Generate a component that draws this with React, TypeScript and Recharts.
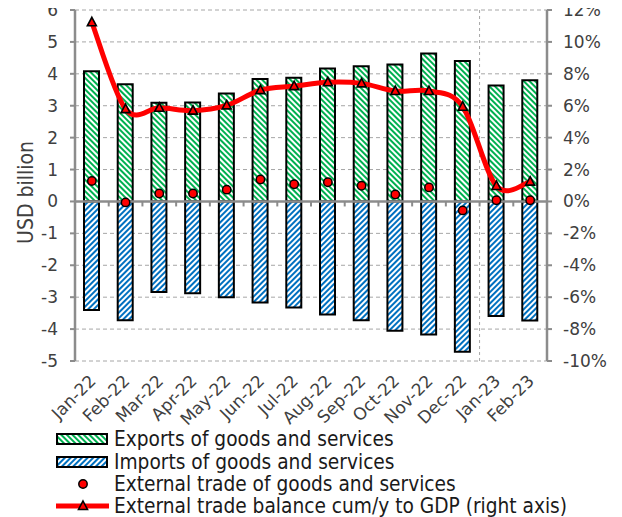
import React from 'react';
import {
  ComposedChart,
  Bar,
  Line,
  XAxis,
  YAxis,
  CartesianGrid,
  ReferenceLine,
  Legend,
} from 'recharts';

const months = ['Jan-22', 'Feb-22', 'Mar-22', 'Apr-22', 'May-22', 'Jun-22', 'Jul-22', 'Aug-22', 'Sep-22', 'Oct-22', 'Nov-22', 'Dec-22', 'Jan-23', 'Feb-23'];
const exportsValues = [4.08, 3.67, 3.09, 3.1, 3.38, 3.84, 3.88, 4.17, 4.24, 4.29, 4.64, 4.4, 3.63, 3.8];
const importsValues = [-3.4, -3.72, -2.84, -2.88, -3.0, -3.17, -3.32, -3.54, -3.72, -4.05, -4.17, -4.71, -3.59, -3.73];
const balanceValues = [0.64, -0.03, 0.25, 0.25, 0.37, 0.69, 0.54, 0.6, 0.49, 0.22, 0.44, -0.28, 0.04, 0.04];
const gdpRatioValues = [11.23, 5.79, 5.87, 5.69, 6.02, 6.98, 7.23, 7.47, 7.4, 6.92, 6.92, 5.94, 0.97, 1.24];
const leftTicks = [-5, -4, -3, -2, -1, 0, 1, 2, 3, 4, 5, 6];
const rightTicks = [-10, -8, -6, -4, -2, 0, 2, 4, 6, 8, 10, 12];
const seriesNames = [
  'Exports of goods and services',
  'Imports of goods and services',
  'External trade of goods and services',
  'External trade balance cum/y to GDP (right axis)',
];
const splitMonth = 'Dec-22';

const data = months.map((m, i) => ({
  month: m,
  exp: exportsValues[i],
  imp: importsValues[i],
  bal: balanceValues[i],
  ratio: gdpRatioValues[i],
}));

const GREEN = '#00B050';
const BLUE = '#0070C0';
const RED = '#FF0000';
const AXIS = '#8C8C8C';
const GRID = '#A6A6A6';
const TEXT = '#404040';
const FONT = '"DejaVu Sans", Verdana, sans-serif';
const FONT_COND = '"DejaVu Sans Condensed", "DejaVu Sans", sans-serif';

// Excel-like smoothing (Catmull-Rom with 1/6 tangents)
function smoothCurve(context: any) {
  let pts: number[][] = [];
  return {
    areaStart() {},
    areaEnd() {},
    lineStart() {
      pts = [];
    },
    lineEnd() {
      const n = pts.length;
      if (!n) return;
      context.moveTo(pts[0][0], pts[0][1]);
      for (let i = 0; i < n - 1; i++) {
        const p0 = pts[Math.max(0, i - 1)];
        const p1 = pts[i];
        const p2 = pts[i + 1];
        const p3 = pts[Math.min(n - 1, i + 2)];
        const k = 1 / 6;
        context.bezierCurveTo(
          p1[0] + (p2[0] - p0[0]) * k,
          p1[1] + (p2[1] - p0[1]) * k,
          p2[0] - (p3[0] - p1[0]) * k,
          p2[1] - (p3[1] - p1[1]) * k,
          p2[0],
          p2[1]
        );
      }
    },
    point(x: number, y: number) {
      pts.push([x, y]);
    },
  };
}

const triangle = (cx: number, cy: number) =>
  `M${cx},${cy - 5} L${cx + 4.5},${cy + 3.5} L${cx - 4.5},${cy + 3.5} Z`;

const TriangleDot = (props: any) => {
  const { cx, cy, index } = props;
  if (cx == null || cy == null) return null;
  return <path key={`t-${index}`} d={triangle(cx, cy)} fill={RED} stroke="#000" strokeWidth={1.6} />;
};

const CircleDot = (props: any) => {
  const { cx, cy, index } = props;
  if (cx == null || cy == null) return null;
  return <circle key={`c-${index}`} cx={cx} cy={cy} r={4.2} fill={RED} stroke="#000" strokeWidth={1.5} />;
};

const XTick = (props: any) => {
  const { x, y, payload } = props;
  const tx = x + 5;
  const ty = y + 19;
  return (
    <text
      x={tx}
      y={ty}
      textAnchor="end"
      transform={`rotate(-45, ${tx}, ${ty})`}
      fill={TEXT}
      fontSize={17}
      fontFamily={FONT}
    >
      {payload.value}
    </text>
  );
};

const ZeroLine = (props: any) => {
  const { x1, y1, x2, y2 } = props;
  const n = months.length;
  const step = (x2 - x1) / n;
  const ticks = [];
  for (let i = 1; i < n; i++) {
    const x = x1 + i * step;
    ticks.push(<line key={i} x1={x} x2={x} y1={y1} y2={y1 + 5} stroke={AXIS} strokeWidth={2} />);
  }
  return (
    <g>
      <line x1={x1} y1={y1} x2={x2} y2={y2} stroke={AXIS} strokeWidth={2.5} />
      {ticks}
    </g>
  );
};

const YLabel = (props: any) => {
  const { viewBox } = props;
  const x = viewBox.x + 33;
  const y = viewBox.y + viewBox.height / 2 + 7;
  return (
    <text x={x} y={y} textAnchor="middle" transform={`rotate(-90, ${x}, ${y})`} fill={TEXT} fontSize={21} fontFamily={FONT_COND}>
      USD billion
    </text>
  );
};

const LegendIcon = ({ i }: { i: number }) => {
  const common = { width: 53, height: 16, style: { marginRight: 5, flex: 'none' } as React.CSSProperties };
  if (i === 0 || i === 1) {
    return (
      <svg {...common}>
        <rect x={1} y={3} width={50} height={10} fill={i === 0 ? 'url(#hatchGreen)' : 'url(#hatchBlue)'} stroke="#000" strokeWidth={2} />
      </svg>
    );
  }
  if (i === 2) {
    return (
      <svg {...common}>
        <circle cx={27} cy={8} r={4.2} fill={RED} stroke="#000" strokeWidth={1.5} />
      </svg>
    );
  }
  return (
    <svg {...common}>
      <line x1={0} x2={55} y1={8} y2={8} stroke={RED} strokeWidth={5} />
      <path d={triangle(27, 8)} fill={RED} stroke="#000" strokeWidth={1.6} />
    </svg>
  );
};

const LegendContent = () => (
  <div
    style={{
      fontFamily: FONT_COND,
      fontSize: 20.7,
      color: '#1A1A1A',
      paddingLeft: 56,
      paddingTop: 1,
      height: 90,
      boxSizing: 'border-box',
    }}
  >
    {seriesNames.map((name, i) => (
      <div key={name} style={{ display: 'flex', alignItems: 'center', height: 22.4, whiteSpace: 'nowrap' }}>
        <LegendIcon i={i} />
        <span>{name}</span>
      </div>
    ))}
  </div>
);

export default function App() {
  return (
    <div style={{ width: 622, height: 517, marginTop: -8, marginLeft: -8 }}>
      <ComposedChart
        width={622}
        height={517}
        data={data}
        stackOffset="sign"
        margin={{ top: 10, right: 0, bottom: 0, left: 0 }}
      >
        <defs>
          <pattern id="hatchGreen" patternUnits="userSpaceOnUse" width={4} height={4} patternTransform="rotate(-45)">
            <rect x={0} y={0} width={4} height={4} fill="#fff" />
            <rect x={0} y={0} width={2} height={4} fill={GREEN} />
          </pattern>
          <pattern id="hatchBlue" patternUnits="userSpaceOnUse" width={4} height={4} patternTransform="rotate(45)">
            <rect x={0} y={0} width={4} height={4} fill="#fff" />
            <rect x={0} y={0} width={2} height={4} fill={BLUE} />
          </pattern>
        </defs>
        <CartesianGrid
          yAxisId="left"
          vertical={false}
          stroke={GRID}
          strokeDasharray="4 3"
        />
        <XAxis
          dataKey="month"
          height={66}
          interval={0}
          axisLine={false}
          tickLine={false}
          tickSize={0}
          tick={<XTick />}
        />
        <YAxis
          yAxisId="left"
          orientation="left"
          width={75}
          domain={[-5, 6]}
          ticks={leftTicks}
          interval={0}
          allowDataOverflow
          stroke={AXIS}
          axisLine={{ stroke: AXIS, strokeWidth: 2.5 }}
          tickLine={{ stroke: AXIS, strokeWidth: 2 }}
          tickSize={5}
          tickMargin={12}
          tick={{ fill: TEXT, fontSize: 17, fontFamily: FONT }}
          label={<YLabel />}
        />
        <YAxis
          yAxisId="right"
          orientation="right"
          width={75}
          domain={[-10, 12]}
          ticks={rightTicks}
          interval={0}
          allowDataOverflow
          tickFormatter={(v: number) => `${v}%`}
          axisLine={{ stroke: AXIS, strokeWidth: 2.5 }}
          tickLine={{ stroke: AXIS, strokeWidth: 2 }}
          tickSize={5}
          tickMargin={11}
          tick={{ fill: TEXT, fontSize: 17, fontFamily: FONT, textAnchor: 'start' }}
        />
        <ReferenceLine
          yAxisId="left"
          x={splitMonth}
          position="end"
          stroke={GRID}
          strokeDasharray="3 3"
          strokeWidth={1}
        />
        <Bar
          yAxisId="left"
          dataKey="exp"
          name={seriesNames[0]}
          stackId="a"
          barSize={15}
          fill="url(#hatchGreen)"
          stroke="#000"
          strokeWidth={2}
          isAnimationActive={false}
        />
        <Bar
          yAxisId="left"
          dataKey="imp"
          name={seriesNames[1]}
          stackId="a"
          barSize={15}
          fill="url(#hatchBlue)"
          stroke="#000"
          strokeWidth={2}
          isAnimationActive={false}
        />
        <ReferenceLine yAxisId="left" y={0} shape={<ZeroLine />} />
        <Line
          yAxisId="right"
          dataKey="ratio"
          name={seriesNames[3]}
          type={smoothCurve as any}
          stroke={RED}
          strokeWidth={5}
          dot={<TriangleDot />}
          activeDot={false}
          isAnimationActive={false}
        />
        <Line
          yAxisId="left"
          dataKey="bal"
          name={seriesNames[2]}
          stroke="none"
          strokeWidth={0}
          dot={<CircleDot />}
          activeDot={false}
          isAnimationActive={false}
        />
        <Legend verticalAlign="bottom" align="left" layout="horizontal" content={<LegendContent />} wrapperStyle={{ left: 0 }} />
      </ComposedChart>
    </div>
  );
}
